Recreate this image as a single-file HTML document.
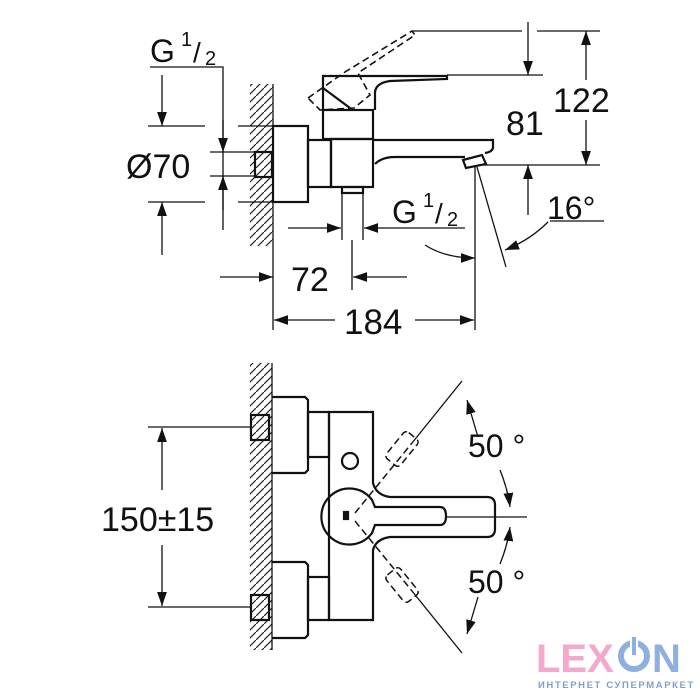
<!DOCTYPE html>
<html><head><meta charset="utf-8">
<style>
html,body{margin:0;padding:0;background:#fff;}
svg{display:block;}
text{font-family:"Liberation Sans",sans-serif;fill:#111;}
</style></head>
<body>
<svg width="700" height="700" viewBox="0 0 700 700" xmlns="http://www.w3.org/2000/svg">
<defs>
<pattern id="h" width="8" height="8" patternUnits="userSpaceOnUse">
<path d="M-2,10 L10,-2" stroke="#222" stroke-width="1.2"/>
</pattern>
<marker id="a" viewBox="0 0 10 10" refX="10" refY="5" markerWidth="14" markerHeight="14" markerUnits="userSpaceOnUse" orient="auto">
<path d="M0,1.5 L10,5 L0,8.5 Z" fill="#111"/>
</marker>
</defs>
<g fill="none" stroke="#111" stroke-width="1.3">
<!-- TOP VIEW -->
<rect x="250" y="84" width="23" height="162" fill="url(#h)" stroke="none"/>
<line x1="273" y1="84" x2="273" y2="330"/>
<g stroke-width="2.2">
<rect x="273" y="126" width="35" height="76"/>
<rect x="255" y="152" width="17" height="25"/>
<rect x="308" y="140" width="23" height="47"/>
<rect x="323" y="110" width="50" height="29"/>
<rect x="331" y="139" width="42" height="48"/>
<path d="M323,110 L323,76 L447,76 L447,79 L390,81 Q376,83 375,92 L375,110"/>
<path d="M323,88 L350,108"/>
<path d="M373,140 L493,140 L493,148 Q492,152 485,153"/>
<path d="M375,164 Q382,157 395,157 L465,157"/>
<path d="M463,160 L482,155 L486,164 L466,168 Z"/>
<rect x="342" y="187" width="21" height="6"/>
</g>
<line x1="342" y1="193" x2="342" y2="240"/>
<line x1="363" y1="193" x2="363" y2="240"/>
<path d="M308,98 L345,72 L412,31 L415,35 L358,73 L370,95 L354,108 L320,110 Z" stroke-dasharray="7,4" stroke-width="1.6"/>
<!-- left dims -->
<polyline points="150,67 223,67 223,230"/>
<line x1="148" y1="126" x2="205" y2="126"/><line x1="238" y1="126" x2="273" y2="126"/>
<line x1="148" y1="202" x2="205" y2="202"/><line x1="238" y1="202" x2="273" y2="202"/>
<line x1="210" y1="152" x2="255" y2="152"/><line x1="210" y1="176" x2="255" y2="176"/>
<line x1="162" y1="75" x2="162" y2="126" marker-end="url(#a)"/>
<line x1="162" y1="255" x2="162" y2="202" marker-end="url(#a)"/>
<line x1="223" y1="120" x2="223" y2="152" marker-end="url(#a)"/>
<line x1="223" y1="210" x2="223" y2="176" marker-end="url(#a)"/>
<!-- right dims -->
<line x1="412" y1="31" x2="522" y2="31"/><line x1="537" y1="31" x2="600" y2="31"/>
<line x1="447" y1="75" x2="543" y2="75"/>
<line x1="480" y1="165" x2="600" y2="165"/>
<line x1="528" y1="22" x2="528" y2="75" marker-end="url(#a)"/>
<line x1="586" y1="80" x2="586" y2="31" marker-end="url(#a)"/>
<line x1="586" y1="120" x2="586" y2="165" marker-end="url(#a)"/>
<line x1="528" y1="215" x2="528" y2="165" marker-end="url(#a)"/>
<line x1="550" y1="221" x2="604" y2="221"/>
<path d="M548,222 Q530,240 505,250" marker-end="url(#a)"/>
<line x1="477" y1="167" x2="506" y2="267"/>
<line x1="475" y1="167" x2="475" y2="330"/>
<path d="M425,245 Q445,258 475,258" marker-end="url(#a)"/>
<line x1="288" y1="228" x2="341" y2="228" marker-end="url(#a)"/>
<line x1="465" y1="228" x2="364" y2="228" marker-end="url(#a)"/>
<line x1="352" y1="240" x2="352" y2="290"/>
<line x1="220" y1="277" x2="273" y2="277" marker-end="url(#a)"/>
<line x1="407" y1="277" x2="353" y2="277" marker-end="url(#a)"/>
<line x1="335" y1="320" x2="274" y2="320" marker-end="url(#a)"/>
<line x1="415" y1="320" x2="474" y2="320" marker-end="url(#a)"/>

<!-- BOTTOM VIEW -->
<rect x="250" y="363" width="22" height="287" fill="url(#h)" stroke="none"/>
<line x1="272" y1="363" x2="272" y2="650"/>
<g stroke-width="2.2">
<path d="M272,397 L305,397 L308,400 L308,470 L305,473 L272,473"/>
<rect x="251" y="415" width="18" height="25"/>
<rect x="308" y="412" width="21" height="45"/>
<path d="M272,562 L305,562 L308,565 L308,635 L305,638 L272,638"/>
<rect x="251" y="595" width="18" height="25"/>
<rect x="308" y="577" width="21" height="43"/>
<path d="M329,412 L373,412 L373,483 Q376,495 390,497 L487,497 Q495,497 495,505 L495,529 Q495,537 487,537 L390,537 Q376,539 373,550 L373,620 L329,620 Z"/>
<circle cx="350" cy="461" r="8"/>
<path d="M372,500 A28,28 0 1 0 372,533 L375,525 L440,525 Q446,525 446,516 Q446,507 440,507 L375,507 Z"/>
<rect x="344" y="512" width="4" height="7" fill="#111"/>
</g>
<line x1="148" y1="427" x2="250" y2="427"/>
<line x1="148" y1="607" x2="250" y2="607"/>
<line x1="162" y1="490" x2="162" y2="428" marker-end="url(#a)"/>
<line x1="162" y1="545" x2="162" y2="606" marker-end="url(#a)"/>
<line x1="446" y1="517" x2="527" y2="517"/>
<line x1="412" y1="443" x2="462" y2="381"/>
<line x1="412" y1="591" x2="462" y2="653"/>
<g stroke-dasharray="7,4" stroke-width="1.5">
<line x1="355" y1="513" x2="412" y2="443"/>
<line x1="355" y1="521" x2="412" y2="591"/>
<rect x="-9" y="-17" width="18" height="34" rx="4" transform="translate(402,449) rotate(39)"/>
<rect x="-9" y="-17" width="18" height="34" rx="4" transform="translate(402,585) rotate(-39)"/>
</g>
<path d="M478,437 L467,400" marker-end="url(#a)"/>
<path d="M500,470 Q508,490 510,507" marker-end="url(#a)"/>
<path d="M500,564 Q508,544 510,527" marker-end="url(#a)"/>
<path d="M478,597 L467,634" marker-end="url(#a)"/>
</g>

<!-- texts -->
<text x="150" y="62" font-size="32">G</text>
<text x="181" y="46" font-size="20">1</text>
<text x="193" y="62" font-size="28">/</text>
<text x="205" y="65" font-size="20">2</text>
<text x="126" y="178" font-size="34">Ø70</text>
<text x="392" y="223" font-size="32">G</text>
<text x="423" y="207" font-size="20">1</text>
<text x="435" y="223" font-size="28">/</text>
<text x="447" y="226" font-size="20">2</text>
<text x="506" y="135" font-size="34">81</text>
<text x="553" y="112" font-size="34">122</text>
<text x="547" y="219" font-size="32">16°</text>
<text x="291" y="291" font-size="34">72</text>
<text x="344" y="334" font-size="35">184</text>
<text x="101" y="531" font-size="34">150±15</text>
<text x="468" y="457" font-size="32">50 °</text>
<text x="468" y="593" font-size="32">50 °</text>

<!-- logo -->
<text x="536" y="672" font-size="40" font-weight="bold" style="fill:#f4a8cb">LEX</text>
<circle cx="634" cy="656" r="13" fill="none" stroke="#8fb0df" stroke-width="6"/>
<rect x="631" y="636" width="6" height="20" fill="#8fb0df" stroke="#fff" stroke-width="2"/>
<text x="652" y="672" font-size="40" font-weight="bold" style="fill:#8fb0df">N</text>
<text x="538" y="688" font-size="9.5" font-weight="bold" letter-spacing="1.6" style="fill:#7f9fd0">ИНТЕРНЕТ СУПЕРМАРКЕТ</text>
</svg>
</body></html>
